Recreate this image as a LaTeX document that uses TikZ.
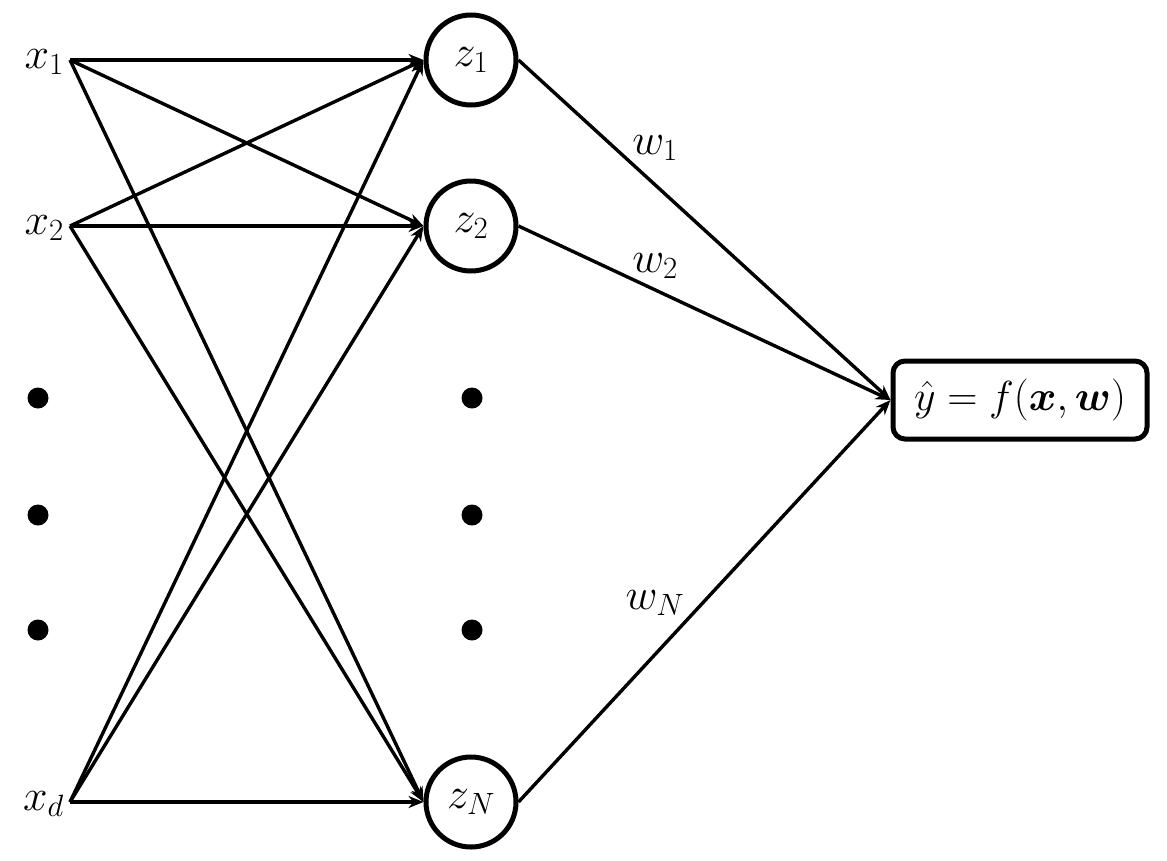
\RequirePackage{fix-cm}
\documentclass[tikz,border=0pt]{standalone}
\usepackage{amsmath}
\usetikzlibrary{arrows.meta}
\begin{document}
\begin{tikzpicture}[x=1pt,y=-1pt,
  conn/.style={line width=3.4pt,-{Stealth[length=15pt,width=12pt]}},
  neuron/.style={circle,draw,line width=5pt,minimum size=90pt,inner sep=0pt,font=\fontsize{44}{52}\selectfont},
  lab/.style={font=\fontsize{44}{52}\selectfont,inner sep=0pt},
  dotm/.style={circle,fill,minimum size=21pt,inner sep=0pt}]
\useasboundingbox (0,0) rectangle (1167,860);
\coordinate (x1) at (70,60);
\coordinate (x2) at (70,226);
\coordinate (xd) at (70,802);
\node[lab,anchor=east] (lx1) at (64,62) {$x_1$};
\node[lab,anchor=east] (lx2) at (64,228) {$x_2$};
\node[lab,anchor=east] (lxd) at (64,804) {$x_d$};
\node[neuron] (z1) at (471,60) {$z_1$};
\node[neuron] (z2) at (471,226) {$z_2$};
\node[neuron] (zN) at (471,802) {$z_N$};
\node[dotm] (d1) at (38,398) {};
\node[dotm] (d2) at (38,515) {};
\node[dotm] (d3) at (38,630) {};
\node[dotm] (m1) at (472,398) {};
\node[dotm] (m2) at (472,515) {};
\node[dotm] (m3) at (472,630) {};
\node[draw,line width=5pt,rounded corners=12pt,minimum width=254pt,minimum height=78pt,inner sep=0pt,font=\fontsize{42}{50}\selectfont] (out) at (1020,400) {$\hat{y}=f(\boldsymbol{x},\boldsymbol{w})$};
\foreach \s in {x1,x2,xd}{
  \foreach \t in {z1,z2,zN}{
    \draw[conn] (\s) -- (\t.west);
  }
}
\draw[conn] (z1.east) -- (out.west);
\draw[conn] (z2.east) -- (out.west);
\draw[conn] (zN.east) -- (out.west);
\node[lab] (w1) at (655,148) {$w_1$};
\node[lab] (w2) at (655,266) {$w_2$};
\node[lab] (wN) at (655,603) {$w_N$};
\end{tikzpicture}
\end{document}
